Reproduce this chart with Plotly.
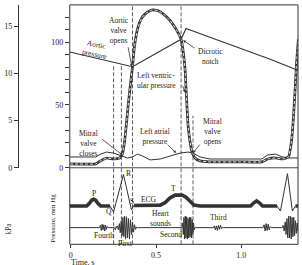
import plotly.graph_objects as go

W, H = 302, 265
def px(x): return x / W
def py(y): return (H - y) / H

INK = "#333333"
TXT = "#222222"
FONT = "Liberation Serif, DejaVu Serif, serif"

# ---------------- data (time in s, pressure in mmHg) ----------------
lv_t = [-0.006, 0.146, 0.175, 0.210, 0.251, 0.286, 0.303, 0.315, 0.327, 0.338, 0.350, 0.362,
        0.373, 0.391, 0.414, 0.443, 0.478, 0.513, 0.548, 0.583, 0.618, 0.647, 0.659, 0.671,
        0.676, 0.688, 0.700, 0.711, 0.729, 0.758, 0.816, 0.991, 1.120, 1.155, 1.201, 1.242,
        1.277, 1.294, 1.306, 1.318, 1.324, 1.335]
lv_p = [3.1, 3.1, 5.5, 7.8, 7.0, 7.8, 10.9, 20.3, 35.9, 51.6, 66.5, 80.5,
        96.1, 110.2, 118.8, 123.4, 125.8, 125.0, 121.9, 117.2, 110.2, 102.3, 93.0, 77.3,
        63.3, 33.6, 20.3, 12.5, 7.8, 5.5, 4.7, 4.7, 4.7, 7.0, 7.8, 7.0,
        8.6, 20.3, 39.8, 67.2, 82.8, 102.3]

ao_t = [-0.006, 0.175, 0.362, 0.647, 0.676, 0.816, 0.991, 1.166, 1.324, 1.340]
ao_p = [92.2, 86.5, 80.5, 102.3, 110.9, 103.9, 95.3, 86.7, 78.1, 77.5]

la_t = [-0.006, 0.146, 0.175, 0.210, 0.251, 0.303, 0.332, 0.362, 0.391, 0.420, 0.466, 0.525,
        0.583, 0.641, 0.688, 0.717, 0.758, 0.816, 0.991, 1.120, 1.155, 1.201, 1.242, 1.283, 1.340]
la_p = [8.6, 8.6, 10.9, 12.5, 11.7, 9.4, 7.8, 8.6, 10.9, 9.4, 6.25, 7.0,
        9.4, 11.7, 12.5, 11.7, 8.6, 7.0, 7.0, 7.0, 10.2, 10.9, 8.6, 7.8, 7.8]

ecg_t = [-0.006, 0.093, 0.108, 0.122, 0.134, 0.146, 0.160, 0.175, 0.230, 0.251, 0.309, 0.356,
         0.370, 0.525, 0.554, 0.583, 0.612, 0.653, 0.676, 0.700, 0.723, 0.758, 1.055, 1.072,
         1.090, 1.108, 1.125, 1.210, 1.230, 1.271, 1.300, 1.318, 1.340]
ecg_mv = [0, 0, 0.08, 0.2, 0.23, 0.2, 0.08, 0, 0, -0.2, 1.07, -0.13,
          0.02, 0.03, 0.12, 0.28, 0.37, 0.37, 0.3, 0.15, 0.03, 0, 0, 0.1,
          0.17, 0.1, 0, 0, -0.17, 1.1, -0.17, 0, 0]
qrs_windows = [(0.230, 0.370), (1.210, 1.318)]

hs_t = [-0.006,
        0.168, 0.174, 0.179, 0.184, 0.189, 0.194, 0.199, 0.204, 0.209, 0.214, 0.220,
        0.256, 0.262, 0.266, 0.270,
        0.274, 0.279, 0.285, 0.290, 0.296, 0.301, 0.306, 0.311, 0.316, 0.321, 0.327, 0.332,
        0.338, 0.344, 0.350, 0.356, 0.362, 0.368, 0.374, 0.380, 0.386, 0.392,
        0.652, 0.656, 0.660, 0.664, 0.668, 0.672, 0.676, 0.680, 0.684, 0.688, 0.692, 0.696,
        0.700, 0.704, 0.708, 0.712, 0.716, 0.720, 0.724, 0.728,
        0.836, 0.842, 0.848, 0.854, 0.860, 0.866, 0.872, 0.878, 0.884, 0.890, 0.896,
        1.128, 1.134, 1.140, 1.146, 1.152, 1.158, 1.164, 1.170, 1.176,
        1.240, 1.246, 1.252, 1.258, 1.263, 1.268, 1.273, 1.278, 1.283, 1.288, 1.293, 1.298,
        1.303, 1.308, 1.313, 1.318, 1.323, 1.328, 1.333, 1.338]
hs_amp = [0,
          0, 0.2, -0.25, 0.3, -0.2, 0.25, -0.3, 0.2, -0.15, 0.1, 0,
          0, -0.2, 0.1, 0,
          0.15, -0.2, 0.35, -0.45, 0.6, -0.7, 0.9, -0.8, 1.0, -1.0, 0.95, -0.9,
          0.8, -1.0, 0.7, -0.6, 0.5, -0.4, 0.25, -0.15, 0.05, 0,
          0, 0.4, -0.6, 0.9, -1.0, 1.0, -0.9, 0.95, -1.0, 0.8, -0.9, 0.9,
          -0.8, 0.9, -0.9, 0.7, -0.6, 0.4, -0.2, 0,
          0, 0.15, -0.2, 0.15, -0.25, 0.2, -0.15, 0.2, -0.1, 0.05, 0,
          0, 0.25, -0.3, 0.35, -0.25, 0.3, -0.2, 0.1, 0,
          0, 0.2, -0.3, 0.5, -0.6, 0.8, -0.9, 1.0, -0.9, 1.0, -1.0, 0.9,
          -0.8, 0.9, -0.7, 0.6, -0.5, 0.4, -0.3, 0.2]

event_t = [0.251, 0.297, 0.362, 0.647, 0.717]
event_top_px = [67, 67, 5, 5, 118]

p_ticks = list(range(0, 130, 10))
p_ticktext = ["0" if v == 0 else "50" if v == 50 else "100" if v == 100 else "" for v in p_ticks]
kpa_ticks = [0, 5, 10, 15]
kpa_range = [0, 129.7 / 7.50062]
time_ticks = [0, 0.5, 1.0]
time_ticktext = ["0", "0.5", "1.0"]

# ---------------- figure ----------------
fig = go.Figure()

fig.add_trace(go.Scatter(x=ao_t, y=ao_p, mode="lines", line=dict(color=INK, width=1.1), xaxis="x", yaxis="y"))
fig.add_trace(go.Scatter(x=la_t, y=la_p, mode="lines", line=dict(color=INK, width=1), xaxis="x", yaxis="y"))
fig.add_trace(go.Scatter(x=lv_t, y=lv_p, mode="lines", line=dict(color=INK, width=2.7, shape="spline", smoothing=0.35), xaxis="x", yaxis="y"))
fig.add_trace(go.Scatter(x=lv_t, y=lv_p, mode="lines", line=dict(color="white", width=0.9, dash="3px,2px", shape="spline", smoothing=0.35), xaxis="x", yaxis="y"))
# invisible trace so the kPa axis gets drawn with its ticks
fig.add_trace(go.Scatter(x=[0, 0], y=kpa_range, mode="lines", line=dict(color="rgba(0,0,0,0)", width=0), xaxis="x", yaxis="y3"))

def in_qrs(t):
    return any(a < t < b for a, b in qrs_windows)
thick_x, thick_y, thin_x, thin_y = [], [], [], []
for t, v in zip(ecg_t, ecg_mv):
    if in_qrs(t):
        thick_x.append(None); thick_y.append(None)
    else:
        thick_x.append(t); thick_y.append(v)
for a, b in qrs_windows:
    for t, v in zip(ecg_t, ecg_mv):
        if a <= t <= b:
            thin_x.append(t); thin_y.append(v)
    thin_x.append(None); thin_y.append(None)
fig.add_trace(go.Scatter(x=thin_x, y=thin_y, mode="lines", line=dict(color=INK, width=1), xaxis="x", yaxis="y2"))
fig.add_trace(go.Scatter(x=thick_x, y=thick_y, mode="lines", line=dict(color=INK, width=3.6), xaxis="x", yaxis="y2", connectgaps=False))

fig.add_trace(go.Scatter(x=hs_t, y=hs_amp, mode="lines", line=dict(color=INK, width=1), xaxis="x", yaxis="y4"))

shapes = []
for t, top in zip(event_t, event_top_px):
    shapes.append(dict(type="line", xref="x", yref="paper", x0=t, x1=t, y0=py(249), y1=py(top),
                       line=dict(color=INK, width=0.8, dash="4px,2px")))
shapes.append(dict(type="rect", xref="paper", yref="paper", x0=px(69), x1=px(298), y0=py(249), y1=py(5),
                   line=dict(color=INK, width=1)))
shapes.append(dict(type="line", xref="paper", yref="paper", x0=px(69), x1=px(298), y0=py(171), y1=py(171),
                   line=dict(color=INK, width=0.9)))

def lab(text, x, y, align="center", angle=0, size=7.5):
    return dict(text=text, xref="paper", yref="paper", x=px(x), y=py(y), showarrow=False,
                xanchor="center", yanchor="middle", align=align, textangle=angle,
                font=dict(family=FONT, size=size, color=TXT))

def arrow(xh, yh, ax, ay, yref="y"):
    return dict(text="", x=xh, y=yh, xref="x", yref=yref, ax=ax, ay=ay, showarrow=True,
                arrowhead=2, arrowsize=0.7, arrowwidth=0.8, arrowcolor=INK)

annotations = [
    lab("Aortic<br>valve<br>opens", 118, 31),
    lab("Aortic<br>pressure", 95, 50, angle=12),
    dict(text="Left ventric-<br>ular pressure", xref="paper", yref="paper", x=px(134), y=py(82),
         showarrow=False, xanchor="left", yanchor="middle", align="left",
         font=dict(family=FONT, size=7.5, color=TXT)),
    lab("Dicrotic<br>notch", 210, 58),
    lab("Mitral<br>valve<br>closes", 88, 146),
    lab("Left atrial<br>pressure", 155, 139),
    lab("Mitral<br>valve<br>opens", 212, 134),
    lab("P", 93, 197),
    lab("Q", 108, 216),
    lab("R", 128, 177),
    lab("S", 131, 205),
    lab("ECG", 148, 203.5),
    lab("T", 173, 192),
    lab("Heart<br>sounds", 160, 223),
    lab("Fourth", 103, 240),
    lab("First", 125, 248),
    lab("Second", 171, 239),
    lab("Third", 218, 222),
    lab("kPa", 8, 233, angle=-90),
    lab("Pressure, mm Hg", 52, 222, angle=-90, size=7),
    dict(text="Time, s", xref="paper", yref="paper", x=px(68), y=py(260.5), showarrow=False,
         xanchor="left", yanchor="top", font=dict(family=FONT, size=8, color=TXT)),
    arrow(0.358, 80.5, -4, -21),
    arrow(0.671, 60, -3, -8),
    arrow(0.659, 101.6, 13, 9),
    arrow(0.303, 10.2, -22, -17),
    arrow(0.618, 11.7, -10, -10),
    arrow(0.717, 11.7, 8, -10),
]

tickfont = dict(family=FONT, size=8, color=TXT)
fig.update_layout(
    width=W, height=H, margin=dict(l=0, r=0, t=0, b=0),
    paper_bgcolor="white", plot_bgcolor="rgba(0,0,0,0)",
    showlegend=False, hovermode=False,
    xaxis=dict(domain=[px(69), px(298)], range=[-0.006, 1.333], anchor="free", position=py(249),
               tickvals=time_ticks, ticktext=time_ticktext, ticks="outside", ticklen=3,
               tickcolor=INK, tickfont=tickfont, showgrid=False, zeroline=False, showline=False),
    yaxis=dict(domain=[py(171), py(5)], range=[0, 129.7], tickvals=p_ticks, ticktext=p_ticktext,
               ticks="outside", ticklen=4, tickcolor=INK, tickfont=tickfont,
               showgrid=False, zeroline=False, showline=False),
    yaxis3=dict(overlaying="y", anchor="free", position=px(17), side="left",
                range=kpa_range, tickvals=kpa_ticks, ticks="outside", ticklen=4,
                tickcolor=INK, tickfont=tickfont, showline=True, linecolor=INK, linewidth=1,
                showgrid=False, zeroline=False, automargin=False),
    yaxis2=dict(domain=[py(222), py(172)], range=[-0.4, 1.267], visible=False, anchor="x"),
    yaxis4=dict(domain=[py(246), py(218)], range=[-1.2, 1.2], visible=False, anchor="x"),
    shapes=shapes, annotations=annotations,
)

fig.write_html("out.html")
